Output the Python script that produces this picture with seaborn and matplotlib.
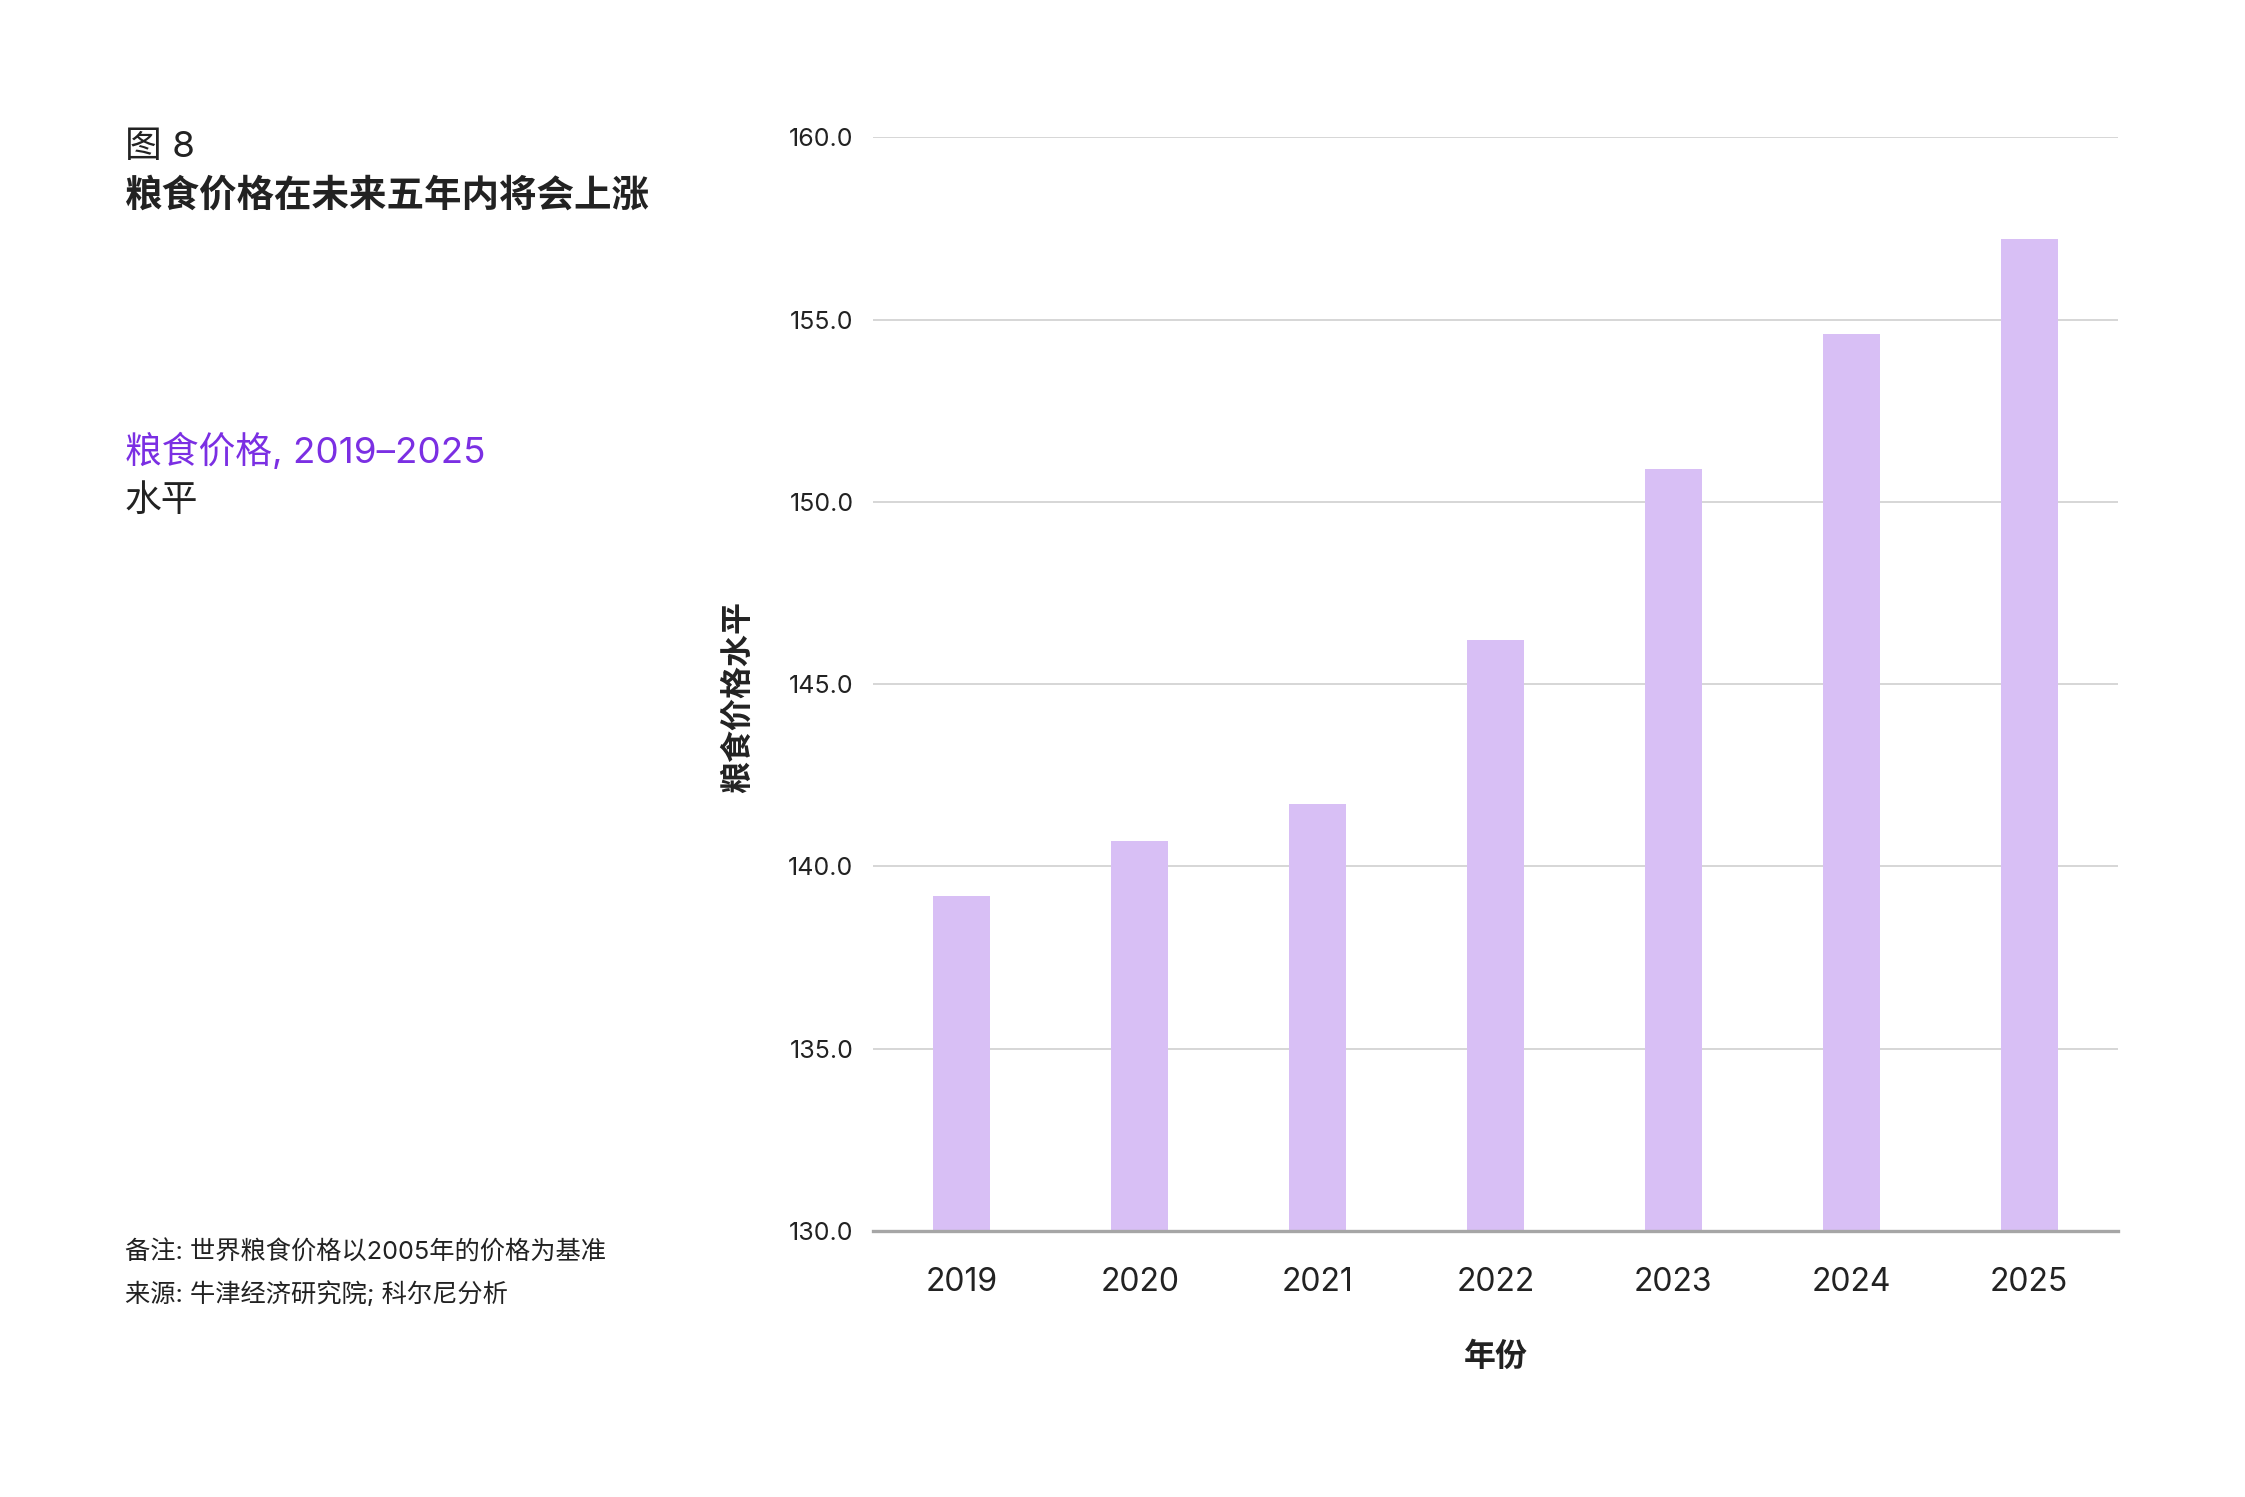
import numpy as np
import pandas as pd
import matplotlib
matplotlib.use("Agg")
import matplotlib.pyplot as plt
import seaborn as sns

# chart data
years = ["2019", "2020", "2021", "2022", "2023", "2024", "2025"]
price_level = [139.2, 140.7, 141.7, 146.2, 150.9, 154.6, 157.2]
y_ticks = [130.0, 135.0, 140.0, 145.0, 150.0, 155.0, 160.0]

fig_label = "图 8"
title = "粮食价格在未来五年内将会上涨"
subtitle = "粮食价格, 2019–2025"
unit = "水平"
note = "备注: 世界粮食价格以2005年的价格为基准"
source = "来源: 牛津经济研究院; 科尔尼分析"
x_label = "年份"
y_label = "粮食价格水平"

BAR = "#D8BFF5"
PURPLE = "#7B2FE3"
INK = "#222222"

sns.set_theme(style="white")
plt.rcParams["font.family"] = ["Inter", "Noto Sans CJK SC", "DejaVu Sans"]

W, H = 2245, 1497
fig = plt.figure(figsize=(W / 100, H / 100), dpi=100)
fig.patch.set_facecolor("white")

left, right, top, bottom = 873, 2118, 137.3, 1231
ax = fig.add_axes([left / W, 1 - bottom / H, (right - left) / W, (bottom - top) / H])

df = pd.DataFrame({"year": years, "level": price_level})
sns.barplot(data=df, x="year", y="level", color=BAR, saturation=1,
            width=0.32, linewidth=0, ax=ax, zorder=3)

ax.set_ylim(130, 160)
ax.set_xlim(-0.5, len(years) - 0.5)
ax.set_yticks(y_ticks)
ax.set_yticklabels([f"{v:.1f}" for v in y_ticks])
ax.grid(axis="y", color="#CCCCCC", linewidth=1.1, zorder=0)
ax.grid(axis="x", visible=False)
for s in ["top", "right", "left"]:
    ax.spines[s].set_visible(False)
ax.spines["bottom"].set_color("#A6A6A6")
ax.spines["bottom"].set_linewidth(2.4)
ax.spines["bottom"].set_zorder(4)

ax.tick_params(axis="y", length=0, pad=14, labelsize=18, labelcolor=INK)
ax.tick_params(axis="x", length=0, pad=26, labelsize=23, labelcolor=INK)

ax.set_xlabel(x_label, fontsize=23, fontweight="bold", color=INK)
ax.xaxis.set_label_coords(0.5, (bottom - 1357) / (bottom - top))
ax.xaxis.label.set_va("center")
ax.set_ylabel(y_label, fontsize=23, fontweight="bold", color=INK)
ax.yaxis.set_label_coords((738 - left) / (right - left), (bottom - 697) / (bottom - top))
ax.yaxis.label.set_va("center")

# left text block
def put(px, py, s, **kw):
    fig.text(px / W, 1 - py / H, s, ha="left", va="center", **kw)

put(125, 148, fig_label, fontsize=26.5, color=INK)
put(125, 197, title, fontsize=27, fontweight="bold", color=INK)
put(125, 451, subtitle, fontsize=26.5, color=PURPLE)
put(125, 501, unit, fontsize=26.5, color=INK)
put(125, 1253, note, fontsize=18.2, color=INK)
put(125, 1294, source, fontsize=18.2, color=INK)

fig.savefig("out.png", dpi=100, facecolor="white")
